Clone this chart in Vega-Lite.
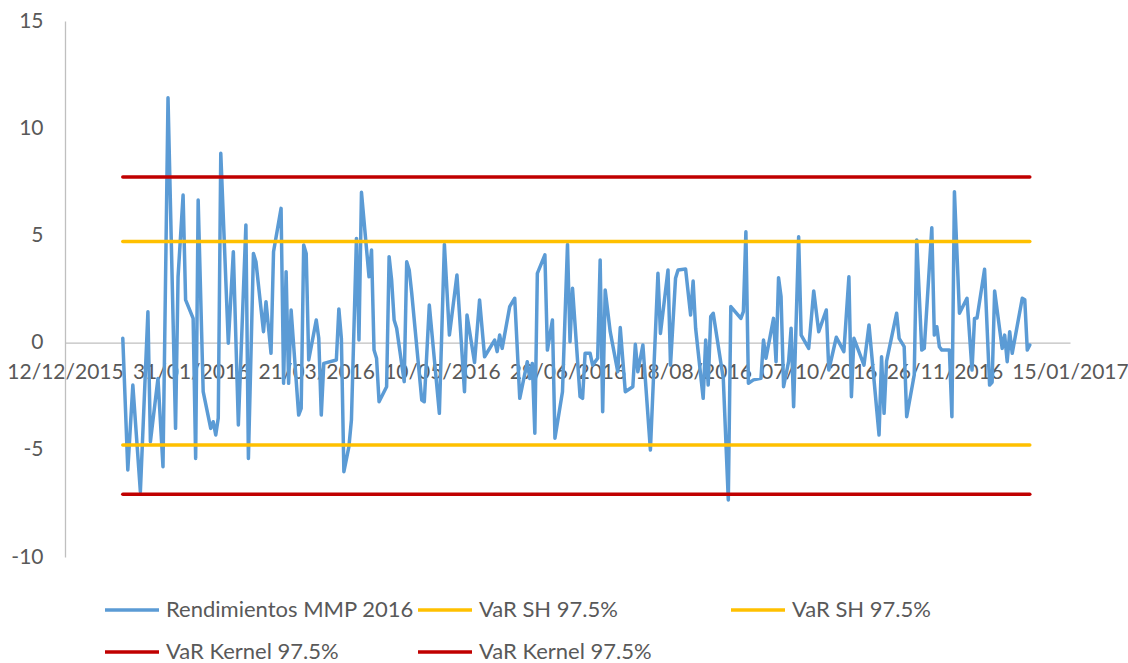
{
  "$schema": "https://vega.github.io/schema/vega-lite/v6.json",
  "autosize": {"type": "none"},
  "padding": {"left": 65, "top": 21, "right": 58, "bottom": 106},
  "width": 1005,
  "height": 536,
  "background": "white",
  "config": {"view": {"stroke": null}, "font": "Lato"},
  "data": {"values": [
    {"fecha":"2016-01-04","serie":"Rendimientos MMP 2016","valor":0.2},
    {"fecha":"2016-01-06","serie":"Rendimientos MMP 2016","valor":-5.94},
    {"fecha":"2016-01-08","serie":"Rendimientos MMP 2016","valor":-1.98},
    {"fecha":"2016-01-11","serie":"Rendimientos MMP 2016","valor":-6.95},
    {"fecha":"2016-01-14","serie":"Rendimientos MMP 2016","valor":1.44},
    {"fecha":"2016-01-15","serie":"Rendimientos MMP 2016","valor":-4.62},
    {"fecha":"2016-01-18","serie":"Rendimientos MMP 2016","valor":-1.67},
    {"fecha":"2016-01-20","serie":"Rendimientos MMP 2016","valor":-5.79},
    {"fecha":"2016-01-22","serie":"Rendimientos MMP 2016","valor":11.42},
    {"fecha":"2016-01-25","serie":"Rendimientos MMP 2016","valor":-4.0},
    {"fecha":"2016-01-26","serie":"Rendimientos MMP 2016","valor":3.07},
    {"fecha":"2016-01-28","serie":"Rendimientos MMP 2016","valor":6.88},
    {"fecha":"2016-01-29","serie":"Rendimientos MMP 2016","valor":1.99},
    {"fecha":"2016-02-01","serie":"Rendimientos MMP 2016","valor":1.13},
    {"fecha":"2016-02-02","serie":"Rendimientos MMP 2016","valor":-5.4},
    {"fecha":"2016-02-03","serie":"Rendimientos MMP 2016","valor":6.65},
    {"fecha":"2016-02-05","serie":"Rendimientos MMP 2016","valor":-2.29},
    {"fecha":"2016-02-08","serie":"Rendimientos MMP 2016","valor":-4.0},
    {"fecha":"2016-02-09","serie":"Rendimientos MMP 2016","valor":-3.69},
    {"fecha":"2016-02-10","serie":"Rendimientos MMP 2016","valor":-4.31},
    {"fecha":"2016-02-11","serie":"Rendimientos MMP 2016","valor":-3.52},
    {"fecha":"2016-02-12","serie":"Rendimientos MMP 2016","valor":8.83},
    {"fecha":"2016-02-15","serie":"Rendimientos MMP 2016","valor":-0.03},
    {"fecha":"2016-02-17","serie":"Rendimientos MMP 2016","valor":4.24},
    {"fecha":"2016-02-19","serie":"Rendimientos MMP 2016","valor":-3.84},
    {"fecha":"2016-02-22","serie":"Rendimientos MMP 2016","valor":5.49},
    {"fecha":"2016-02-23","serie":"Rendimientos MMP 2016","valor":-5.4},
    {"fecha":"2016-02-25","serie":"Rendimientos MMP 2016","valor":4.16},
    {"fecha":"2016-02-26","serie":"Rendimientos MMP 2016","valor":3.77},
    {"fecha":"2016-02-29","serie":"Rendimientos MMP 2016","valor":0.51},
    {"fecha":"2016-03-01","serie":"Rendimientos MMP 2016","valor":1.91},
    {"fecha":"2016-03-03","serie":"Rendimientos MMP 2016","valor":-0.5},
    {"fecha":"2016-03-04","serie":"Rendimientos MMP 2016","valor":4.24},
    {"fecha":"2016-03-07","serie":"Rendimientos MMP 2016","valor":6.26},
    {"fecha":"2016-03-08","serie":"Rendimientos MMP 2016","valor":-1.9},
    {"fecha":"2016-03-09","serie":"Rendimientos MMP 2016","valor":3.31},
    {"fecha":"2016-03-10","serie":"Rendimientos MMP 2016","valor":-1.9},
    {"fecha":"2016-03-11","serie":"Rendimientos MMP 2016","valor":1.52},
    {"fecha":"2016-03-14","serie":"Rendimientos MMP 2016","valor":-3.38},
    {"fecha":"2016-03-15","serie":"Rendimientos MMP 2016","valor":-3.07},
    {"fecha":"2016-03-16","serie":"Rendimientos MMP 2016","valor":4.55},
    {"fecha":"2016-03-17","serie":"Rendimientos MMP 2016","valor":4.16},
    {"fecha":"2016-03-18","serie":"Rendimientos MMP 2016","valor":-0.81},
    {"fecha":"2016-03-21","serie":"Rendimientos MMP 2016","valor":1.05},
    {"fecha":"2016-03-22","serie":"Rendimientos MMP 2016","valor":0.2},
    {"fecha":"2016-03-23","serie":"Rendimientos MMP 2016","valor":-3.38},
    {"fecha":"2016-03-24","serie":"Rendimientos MMP 2016","valor":-0.97},
    {"fecha":"2016-03-29","serie":"Rendimientos MMP 2016","valor":-0.81},
    {"fecha":"2016-03-30","serie":"Rendimientos MMP 2016","valor":1.57},
    {"fecha":"2016-03-31","serie":"Rendimientos MMP 2016","valor":0.2},
    {"fecha":"2016-04-01","serie":"Rendimientos MMP 2016","valor":-6.02},
    {"fecha":"2016-04-03","serie":"Rendimientos MMP 2016","valor":-4.85},
    {"fecha":"2016-04-04","serie":"Rendimientos MMP 2016","valor":-3.61},
    {"fecha":"2016-04-06","serie":"Rendimientos MMP 2016","valor":4.86},
    {"fecha":"2016-04-07","serie":"Rendimientos MMP 2016","valor":0.12},
    {"fecha":"2016-04-08","serie":"Rendimientos MMP 2016","valor":7.01},
    {"fecha":"2016-04-11","serie":"Rendimientos MMP 2016","valor":3.07},
    {"fecha":"2016-04-12","serie":"Rendimientos MMP 2016","valor":4.32},
    {"fecha":"2016-04-13","serie":"Rendimientos MMP 2016","valor":-0.35},
    {"fecha":"2016-04-14","serie":"Rendimientos MMP 2016","valor":-0.73},
    {"fecha":"2016-04-15","serie":"Rendimientos MMP 2016","valor":-2.76},
    {"fecha":"2016-04-18","serie":"Rendimientos MMP 2016","valor":-2.06},
    {"fecha":"2016-04-19","serie":"Rendimientos MMP 2016","valor":4.01},
    {"fecha":"2016-04-20","serie":"Rendimientos MMP 2016","valor":2.92},
    {"fecha":"2016-04-21","serie":"Rendimientos MMP 2016","valor":1.05},
    {"fecha":"2016-04-22","serie":"Rendimientos MMP 2016","valor":0.67},
    {"fecha":"2016-04-25","serie":"Rendimientos MMP 2016","valor":-1.82},
    {"fecha":"2016-04-26","serie":"Rendimientos MMP 2016","valor":3.77},
    {"fecha":"2016-04-27","serie":"Rendimientos MMP 2016","valor":3.39},
    {"fecha":"2016-04-28","serie":"Rendimientos MMP 2016","valor":2.3},
    {"fecha":"2016-05-02","serie":"Rendimientos MMP 2016","valor":-2.68},
    {"fecha":"2016-05-03","serie":"Rendimientos MMP 2016","valor":-2.76},
    {"fecha":"2016-05-05","serie":"Rendimientos MMP 2016","valor":1.75},
    {"fecha":"2016-05-09","serie":"Rendimientos MMP 2016","valor":-3.3},
    {"fecha":"2016-05-11","serie":"Rendimientos MMP 2016","valor":4.58},
    {"fecha":"2016-05-13","serie":"Rendimientos MMP 2016","valor":0.35},
    {"fecha":"2016-05-16","serie":"Rendimientos MMP 2016","valor":3.15},
    {"fecha":"2016-05-19","serie":"Rendimientos MMP 2016","valor":-2.29},
    {"fecha":"2016-05-20","serie":"Rendimientos MMP 2016","valor":1.29},
    {"fecha":"2016-05-23","serie":"Rendimientos MMP 2016","valor":-0.93},
    {"fecha":"2016-05-25","serie":"Rendimientos MMP 2016","valor":1.99},
    {"fecha":"2016-05-27","serie":"Rendimientos MMP 2016","valor":-0.66},
    {"fecha":"2016-05-31","serie":"Rendimientos MMP 2016","valor":0.12},
    {"fecha":"2016-06-01","serie":"Rendimientos MMP 2016","valor":-0.42},
    {"fecha":"2016-06-02","serie":"Rendimientos MMP 2016","valor":0.35},
    {"fecha":"2016-06-03","serie":"Rendimientos MMP 2016","valor":-0.27},
    {"fecha":"2016-06-06","serie":"Rendimientos MMP 2016","valor":1.68},
    {"fecha":"2016-06-08","serie":"Rendimientos MMP 2016","valor":2.07},
    {"fecha":"2016-06-10","serie":"Rendimientos MMP 2016","valor":-2.6},
    {"fecha":"2016-06-13","serie":"Rendimientos MMP 2016","valor":-0.89},
    {"fecha":"2016-06-14","serie":"Rendimientos MMP 2016","valor":-1.67},
    {"fecha":"2016-06-15","serie":"Rendimientos MMP 2016","valor":-0.97},
    {"fecha":"2016-06-16","serie":"Rendimientos MMP 2016","valor":-4.23},
    {"fecha":"2016-06-17","serie":"Rendimientos MMP 2016","valor":3.23},
    {"fecha":"2016-06-20","serie":"Rendimientos MMP 2016","valor":4.09},
    {"fecha":"2016-06-21","serie":"Rendimientos MMP 2016","valor":-0.35},
    {"fecha":"2016-06-23","serie":"Rendimientos MMP 2016","valor":1.05},
    {"fecha":"2016-06-24","serie":"Rendimientos MMP 2016","valor":-4.46},
    {"fecha":"2016-06-27","serie":"Rendimientos MMP 2016","valor":-2.29},
    {"fecha":"2016-06-29","serie":"Rendimientos MMP 2016","valor":4.58},
    {"fecha":"2016-06-30","serie":"Rendimientos MMP 2016","valor":0.04},
    {"fecha":"2016-07-01","serie":"Rendimientos MMP 2016","valor":2.53},
    {"fecha":"2016-07-04","serie":"Rendimientos MMP 2016","valor":-2.52},
    {"fecha":"2016-07-05","serie":"Rendimientos MMP 2016","valor":-2.6},
    {"fecha":"2016-07-06","serie":"Rendimientos MMP 2016","valor":-0.5},
    {"fecha":"2016-07-08","serie":"Rendimientos MMP 2016","valor":-0.5},
    {"fecha":"2016-07-09","serie":"Rendimientos MMP 2016","valor":-1.05},
    {"fecha":"2016-07-11","serie":"Rendimientos MMP 2016","valor":-0.73},
    {"fecha":"2016-07-12","serie":"Rendimientos MMP 2016","valor":3.85},
    {"fecha":"2016-07-13","serie":"Rendimientos MMP 2016","valor":-3.22},
    {"fecha":"2016-07-14","serie":"Rendimientos MMP 2016","valor":2.45},
    {"fecha":"2016-07-16","serie":"Rendimientos MMP 2016","valor":0.51},
    {"fecha":"2016-07-19","serie":"Rendimientos MMP 2016","valor":-1.36},
    {"fecha":"2016-07-20","serie":"Rendimientos MMP 2016","valor":0.7},
    {"fecha":"2016-07-22","serie":"Rendimientos MMP 2016","valor":-2.29},
    {"fecha":"2016-07-25","serie":"Rendimientos MMP 2016","valor":-2.06},
    {"fecha":"2016-07-26","serie":"Rendimientos MMP 2016","valor":-0.08},
    {"fecha":"2016-07-27","serie":"Rendimientos MMP 2016","valor":-1.36},
    {"fecha":"2016-07-29","serie":"Rendimientos MMP 2016","valor":-0.11},
    {"fecha":"2016-08-01","serie":"Rendimientos MMP 2016","valor":-5.01},
    {"fecha":"2016-08-04","serie":"Rendimientos MMP 2016","valor":3.23},
    {"fecha":"2016-08-05","serie":"Rendimientos MMP 2016","valor":0.43},
    {"fecha":"2016-08-08","serie":"Rendimientos MMP 2016","valor":3.39},
    {"fecha":"2016-08-09","serie":"Rendimientos MMP 2016","valor":-1.05},
    {"fecha":"2016-08-11","serie":"Rendimientos MMP 2016","valor":3.0},
    {"fecha":"2016-08-12","serie":"Rendimientos MMP 2016","valor":3.39},
    {"fecha":"2016-08-15","serie":"Rendimientos MMP 2016","valor":3.43},
    {"fecha":"2016-08-17","serie":"Rendimientos MMP 2016","valor":1.29},
    {"fecha":"2016-08-18","serie":"Rendimientos MMP 2016","valor":2.87},
    {"fecha":"2016-08-19","serie":"Rendimientos MMP 2016","valor":0.67},
    {"fecha":"2016-08-22","serie":"Rendimientos MMP 2016","valor":-2.6},
    {"fecha":"2016-08-23","serie":"Rendimientos MMP 2016","valor":0.12},
    {"fecha":"2016-08-24","serie":"Rendimientos MMP 2016","valor":-1.98},
    {"fecha":"2016-08-25","serie":"Rendimientos MMP 2016","valor":1.21},
    {"fecha":"2016-08-26","serie":"Rendimientos MMP 2016","valor":1.37},
    {"fecha":"2016-08-30","serie":"Rendimientos MMP 2016","valor":-1.67},
    {"fecha":"2016-09-01","serie":"Rendimientos MMP 2016","valor":-7.34},
    {"fecha":"2016-09-02","serie":"Rendimientos MMP 2016","valor":1.68},
    {"fecha":"2016-09-06","serie":"Rendimientos MMP 2016","valor":1.13},
    {"fecha":"2016-09-07","serie":"Rendimientos MMP 2016","valor":1.44},
    {"fecha":"2016-09-08","serie":"Rendimientos MMP 2016","valor":5.17},
    {"fecha":"2016-09-09","serie":"Rendimientos MMP 2016","valor":-1.9},
    {"fecha":"2016-09-11","serie":"Rendimientos MMP 2016","valor":-1.74},
    {"fecha":"2016-09-14","serie":"Rendimientos MMP 2016","valor":-1.67},
    {"fecha":"2016-09-15","serie":"Rendimientos MMP 2016","valor":0.12},
    {"fecha":"2016-09-16","serie":"Rendimientos MMP 2016","valor":-0.73},
    {"fecha":"2016-09-19","serie":"Rendimientos MMP 2016","valor":1.13},
    {"fecha":"2016-09-20","serie":"Rendimientos MMP 2016","valor":-0.89},
    {"fecha":"2016-09-21","serie":"Rendimientos MMP 2016","valor":3.03},
    {"fecha":"2016-09-22","serie":"Rendimientos MMP 2016","valor":2.14},
    {"fecha":"2016-09-23","serie":"Rendimientos MMP 2016","valor":-2.06},
    {"fecha":"2016-09-25","serie":"Rendimientos MMP 2016","valor":-0.89},
    {"fecha":"2016-09-26","serie":"Rendimientos MMP 2016","valor":0.67},
    {"fecha":"2016-09-27","serie":"Rendimientos MMP 2016","valor":-2.99},
    {"fecha":"2016-09-29","serie":"Rendimientos MMP 2016","valor":4.94},
    {"fecha":"2016-09-30","serie":"Rendimientos MMP 2016","valor":0.35},
    {"fecha":"2016-10-03","serie":"Rendimientos MMP 2016","valor":-0.27},
    {"fecha":"2016-10-05","serie":"Rendimientos MMP 2016","valor":2.41},
    {"fecha":"2016-10-07","serie":"Rendimientos MMP 2016","valor":0.51},
    {"fecha":"2016-10-10","serie":"Rendimientos MMP 2016","valor":1.52},
    {"fecha":"2016-10-11","serie":"Rendimientos MMP 2016","valor":-1.28},
    {"fecha":"2016-10-14","serie":"Rendimientos MMP 2016","valor":0.25},
    {"fecha":"2016-10-17","serie":"Rendimientos MMP 2016","valor":-0.42},
    {"fecha":"2016-10-19","serie":"Rendimientos MMP 2016","valor":3.07},
    {"fecha":"2016-10-20","serie":"Rendimientos MMP 2016","valor":-2.52},
    {"fecha":"2016-10-21","serie":"Rendimientos MMP 2016","valor":0.2},
    {"fecha":"2016-10-25","serie":"Rendimientos MMP 2016","valor":-1.05},
    {"fecha":"2016-10-27","serie":"Rendimientos MMP 2016","valor":0.82},
    {"fecha":"2016-10-31","serie":"Rendimientos MMP 2016","valor":-4.31},
    {"fecha":"2016-11-01","serie":"Rendimientos MMP 2016","valor":-0.66},
    {"fecha":"2016-11-02","serie":"Rendimientos MMP 2016","valor":-3.3},
    {"fecha":"2016-11-03","serie":"Rendimientos MMP 2016","valor":-0.86},
    {"fecha":"2016-11-07","serie":"Rendimientos MMP 2016","valor":1.37},
    {"fecha":"2016-11-08","serie":"Rendimientos MMP 2016","valor":0.2},
    {"fecha":"2016-11-10","serie":"Rendimientos MMP 2016","valor":-0.19},
    {"fecha":"2016-11-11","serie":"Rendimientos MMP 2016","valor":-3.46},
    {"fecha":"2016-11-14","serie":"Rendimientos MMP 2016","valor":-1.51},
    {"fecha":"2016-11-15","serie":"Rendimientos MMP 2016","valor":4.79},
    {"fecha":"2016-11-17","serie":"Rendimientos MMP 2016","valor":-0.35},
    {"fecha":"2016-11-18","serie":"Rendimientos MMP 2016","valor":-0.27},
    {"fecha":"2016-11-21","serie":"Rendimientos MMP 2016","valor":5.36},
    {"fecha":"2016-11-22","serie":"Rendimientos MMP 2016","valor":0.35},
    {"fecha":"2016-11-23","serie":"Rendimientos MMP 2016","valor":0.74},
    {"fecha":"2016-11-24","serie":"Rendimientos MMP 2016","valor":-0.19},
    {"fecha":"2016-11-25","serie":"Rendimientos MMP 2016","valor":-0.35},
    {"fecha":"2016-11-28","serie":"Rendimientos MMP 2016","valor":-0.35},
    {"fecha":"2016-11-29","serie":"Rendimientos MMP 2016","valor":-3.46},
    {"fecha":"2016-11-30","serie":"Rendimientos MMP 2016","valor":7.04},
    {"fecha":"2016-12-02","serie":"Rendimientos MMP 2016","valor":1.37},
    {"fecha":"2016-12-05","serie":"Rendimientos MMP 2016","valor":2.07},
    {"fecha":"2016-12-07","serie":"Rendimientos MMP 2016","valor":-1.28},
    {"fecha":"2016-12-08","serie":"Rendimientos MMP 2016","valor":1.13},
    {"fecha":"2016-12-09","serie":"Rendimientos MMP 2016","valor":1.15},
    {"fecha":"2016-12-12","serie":"Rendimientos MMP 2016","valor":3.42},
    {"fecha":"2016-12-14","serie":"Rendimientos MMP 2016","valor":-1.98},
    {"fecha":"2016-12-15","serie":"Rendimientos MMP 2016","valor":-1.85},
    {"fecha":"2016-12-16","serie":"Rendimientos MMP 2016","valor":2.41},
    {"fecha":"2016-12-19","serie":"Rendimientos MMP 2016","valor":-0.27},
    {"fecha":"2016-12-20","serie":"Rendimientos MMP 2016","valor":0.35},
    {"fecha":"2016-12-21","serie":"Rendimientos MMP 2016","valor":-0.89},
    {"fecha":"2016-12-22","serie":"Rendimientos MMP 2016","valor":0.51},
    {"fecha":"2016-12-23","serie":"Rendimientos MMP 2016","valor":-0.5},
    {"fecha":"2016-12-27","serie":"Rendimientos MMP 2016","valor":2.07},
    {"fecha":"2016-12-28","serie":"Rendimientos MMP 2016","valor":2.0},
    {"fecha":"2016-12-29","serie":"Rendimientos MMP 2016","valor":-0.35},
    {"fecha":"2016-12-30","serie":"Rendimientos MMP 2016","valor":-0.11},
    {"fecha":"2016-01-04","serie":"VaR SH 97.5%|1","valor":4.72},
    {"fecha":"2016-12-30","serie":"VaR SH 97.5%|1","valor":4.72},
    {"fecha":"2016-01-04","serie":"VaR SH 97.5%|2","valor":-4.78},
    {"fecha":"2016-12-30","serie":"VaR SH 97.5%|2","valor":-4.78},
    {"fecha":"2016-01-04","serie":"VaR Kernel 97.5%|1","valor":7.72},
    {"fecha":"2016-12-30","serie":"VaR Kernel 97.5%|1","valor":7.72},
    {"fecha":"2016-01-04","serie":"VaR Kernel 97.5%|2","valor":-7.07},
    {"fecha":"2016-12-30","serie":"VaR Kernel 97.5%|2","valor":-7.07}
  ]},
  "mark": {"type": "line", "strokeWidth": 3.5, "strokeJoin": "round", "strokeCap": "round"},
  "encoding": {
    "x": {
      "field": "fecha", "type": "temporal",
      "scale": {"type": "utc", "domain": [{"year": 2015, "month": 12, "date": 12, "utc": true}, {"year": 2017, "month": 1, "date": 15, "utc": true}]},
      "axis": {
        "title": null, "offset": -214.4, "grid": false, "ticks": false,
        "domainColor": "#BFBFBF", "domainWidth": 1.3,
        "format": "%d/%m/%Y", "labelFontSize": 21, "labelColor": "#595959", "labelFont": "Lato",
        "labelPadding": 19, "labelOverlap": false, "labelFlush": false,
        "values": [
          {"year": 2015, "month": 12, "date": 12, "utc": true},
          {"year": 2016, "month": 1, "date": 31, "utc": true},
          {"year": 2016, "month": 3, "date": 21, "utc": true},
          {"year": 2016, "month": 5, "date": 10, "utc": true},
          {"year": 2016, "month": 6, "date": 29, "utc": true},
          {"year": 2016, "month": 8, "date": 18, "utc": true},
          {"year": 2016, "month": 10, "date": 7, "utc": true},
          {"year": 2016, "month": 11, "date": 26, "utc": true},
          {"year": 2017, "month": 1, "date": 15, "utc": true}
        ]
      }
    },
    "y": {
      "field": "valor", "type": "quantitative",
      "scale": {"domain": [-10, 15], "nice": false, "zero": false},
      "axis": {
        "title": null, "grid": false, "ticks": false, "values": [-10, -5, 0, 5, 10, 15],
        "labelExpr": "'' + datum.value",
        "domainColor": "#BFBFBF", "domainWidth": 1.3,
        "labelFontSize": 21, "labelColor": "#595959", "labelFont": "Lato", "labelPadding": 22
      }
    },
    "color": {
      "field": "serie", "type": "nominal",
      "scale": {
        "domain": ["Rendimientos MMP 2016", "VaR SH 97.5%|1", "VaR SH 97.5%|2", "VaR Kernel 97.5%|1", "VaR Kernel 97.5%|2"],
        "range": ["#5B9BD5", "#FFC000", "#FFC000", "#C00000", "#C00000"]
      },
      "legend": {
        "title": null, "orient": "none", "legendX": 38, "legendY": 560,
        "direction": "horizontal", "columns": 3, "gridAlign": "all",
        "symbolType": "stroke", "symbolSize": 2916, "symbolStrokeWidth": 3.5,
        "labelFontSize": 22, "labelColor": "#595959", "labelFont": "Lato", "labelLimit": 400,
        "labelOffset": 5, "columnPadding": -3, "rowPadding": 2,
        "labelExpr": "split(datum.label, '|')[0]"
      }
    }
  }
}
